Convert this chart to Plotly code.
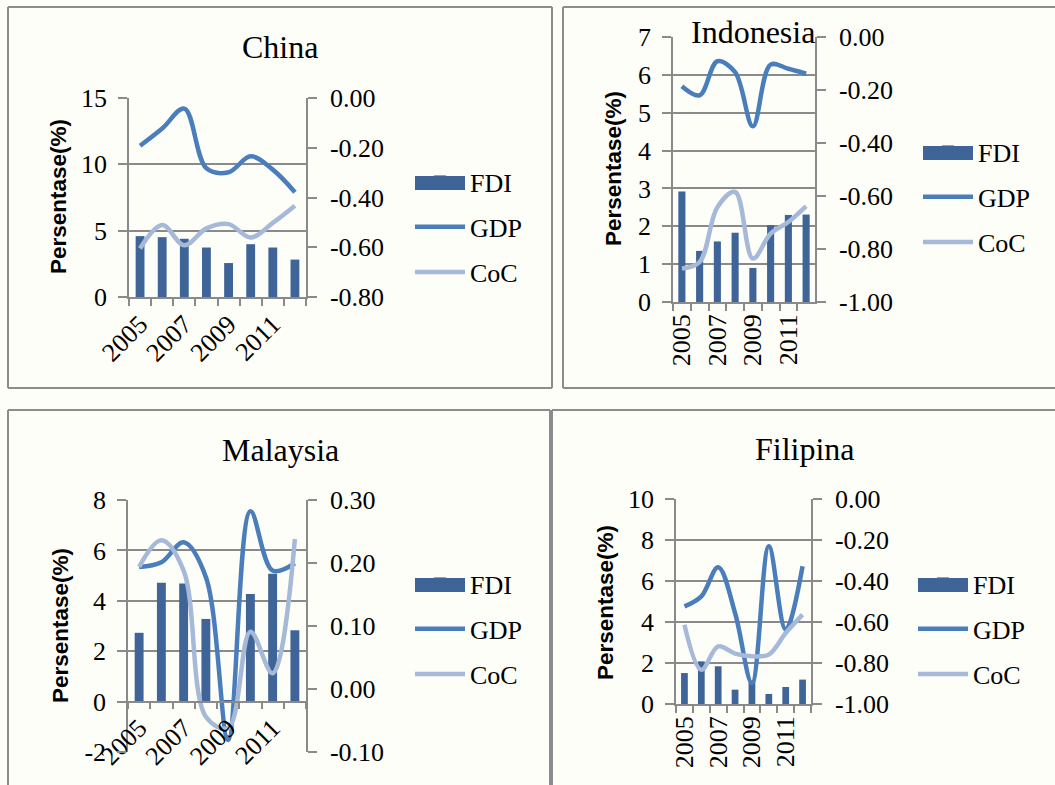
import plotly.graph_objects as go

W, H = 1055, 785

years = ['2005', '2006', '2007', '2008', '2009', '2010', '2011', '2012']
year_labels = ['2005', '', '2007', '', '2009', '', '2011', '']

china_fdi = [4.59, 4.51, 4.39, 3.73, 2.56, 3.98, 3.73, 2.82]
china_gdp = [11.4, 12.7, 14.2, 9.7, 9.4, 10.6, 9.6, 7.9]
china_coc = [-0.605, -0.511, -0.592, -0.524, -0.507, -0.561, -0.502, -0.433]

indo_fdi = [2.92, 1.35, 1.60, 1.83, 0.90, 2.03, 2.30, 2.31]
indo_gdp = [5.70, 5.46, 6.36, 6.07, 4.64, 6.27, 6.16, 6.03]
indo_coc = [-0.874, -0.849, -0.642, -0.585, -0.836, -0.742, -0.698, -0.638]

malay_fdi = [2.73, 4.72, 4.69, 3.28, 0.06, 4.27, 5.07, 2.83]
malay_gdp = [5.34, 5.53, 6.32, 4.94, -1.52, 7.55, 5.20, 5.49]
malay_coc = [0.194, 0.236, 0.188, -0.044, -0.062, 0.091, 0.025, 0.238]

phil_fdi = [1.51, 2.08, 1.84, 0.70, 1.15, 0.49, 0.83, 1.19]
phil_gdp = [4.76, 5.25, 6.67, 4.44, 1.02, 7.69, 3.63, 6.72]
phil_coc = [-0.613, -0.833, -0.719, -0.754, -0.767, -0.759, -0.654, -0.564]

china_left_ticks = [0, 5, 10, 15]
china_right_ticks = [-0.8, -0.6, -0.4, -0.2, 0.0]
indo_left_ticks = [0, 1, 2, 3, 4, 5, 6, 7]
indo_right_ticks = [-1.0, -0.8, -0.6, -0.4, -0.2, 0.0]
malay_left_ticks = [-2, 0, 2, 4, 6, 8]
malay_right_ticks = [-0.1, 0.0, 0.1, 0.2, 0.3]
phil_left_ticks = [0, 2, 4, 6, 8, 10]
phil_right_ticks = [-1.0, -0.8, -0.6, -0.4, -0.2, 0.0]

BAR = '#3F6598'
GDP = '#4A7EBB'
COC = '#A6B9D8'
GRID = '#8A8A8A'
SERIF = 'Liberation Serif, Times New Roman, serif'

panels = [
    dict(title='China', fdi=china_fdi, gdp=china_gdp, coc=china_coc,
         lt=china_left_ticks, rt=china_right_ticks,
         box=(129, 98, 306, 297), angle=-45, title_xy=(280, 47),
         ytitle_xy=(59, 197), legend_xy=(410, 158), xzero=False),
    dict(title='Indonesia', fdi=indo_fdi, gdp=indo_gdp, coc=indo_coc,
         lt=indo_left_ticks, rt=indo_right_ticks,
         box=(673, 37, 815, 302), angle=-90, title_xy=(753, 32),
         ytitle_xy=(614, 169), legend_xy=(918, 128), xzero=False),
    dict(title='Malaysia', fdi=malay_fdi, gdp=malay_gdp, coc=malay_coc,
         lt=malay_left_ticks, rt=malay_right_ticks,
         box=(128, 500, 306, 752), angle=-45, title_xy=(280, 450),
         ytitle_xy=(60, 626), legend_xy=(410, 560), xzero=True),
    dict(title='Filipina', fdi=phil_fdi, gdp=phil_gdp, coc=phil_coc,
         lt=phil_left_ticks, rt=phil_right_ticks,
         box=(676, 499, 811, 704), angle=-90, title_xy=(805, 449),
         ytitle_xy=(605, 603), legend_xy=(913, 560), xzero=False),
]


def px_x(x):
    return x / W


def px_y(y):
    return 1 - y / H


fig = go.Figure()
layout = dict(
    width=W, height=H,
    margin=dict(l=0, r=0, t=0, b=0, autoexpand=False),
    paper_bgcolor='#FEFEF9',
    plot_bgcolor='rgba(0,0,0,0)',
    bargap=0.6,
    shapes=[], annotations=[],
)

tick_font = dict(family=SERIF, size=26, color='black')

for i, p in enumerate(panels):
    n = i + 1
    xa = 'x' if n == 1 else f'x{n}'
    ya_l = 'y' if n == 1 else f'y{2 * n - 1}'
    ya_r = f'y{2 * n}'
    leg = 'legend' if n == 1 else f'legend{n}'

    fig.add_trace(go.Bar(x=years, y=p['fdi'], name='FDI', marker_color=BAR,
                         marker_line_width=0, xaxis=xa, yaxis=ya_l,
                         legend=leg, legendgroup=f'fdi{n}'))
    fig.add_trace(go.Scatter(x=years, y=p['gdp'], name='GDP', mode='lines',
                             line=dict(color=GDP, width=4.5, shape='spline', smoothing=1),
                             xaxis=xa, yaxis=ya_l, legend=leg, legendgroup=f'gdp{n}'))
    fig.add_trace(go.Scatter(x=years, y=p['coc'], name='CoC', mode='lines',
                             line=dict(color=COC, width=4.5, shape='spline', smoothing=1),
                             xaxis=xa, yaxis=ya_r, legend=leg, legendgroup=f'coc{n}'))

    x0, y0, x1, y1 = p['box']
    xdom = [px_x(x0), px_x(x1)]
    ydom = [px_y(y1), px_y(y0)]
    lt, rt = p['lt'], p['rt']

    xkey = 'xaxis' if n == 1 else f'xaxis{n}'
    ylkey = 'yaxis' if n == 1 else f'yaxis{2 * n - 1}'
    yrkey = f'yaxis{2 * n}'

    xaxis = dict(domain=xdom, type='category', range=[-0.5, len(years) - 0.5],
                 tickmode='array', tickvals=years, ticktext=year_labels,
                 tickson='boundaries', ticks='outside', ticklen=7, tickwidth=1.5,
                 tickcolor=GRID, showline=True, linecolor=GRID, linewidth=1.5,
                 showgrid=False, tickangle=p['angle'], tickfont=tick_font,
                 anchor=ya_l, fixedrange=True, automargin=False)
    if p['xzero']:
        frac = (0 - lt[0]) / (lt[-1] - lt[0])
        xaxis['anchor'] = 'free'
        xaxis['position'] = ydom[0] + frac * (ydom[1] - ydom[0])
    layout[xkey] = xaxis

    layout[ylkey] = dict(domain=ydom, anchor=xa, range=[lt[0], lt[-1]],
                         tickmode='array', tickvals=lt, ticktext=[str(v) for v in lt],
                         ticks='outside', ticklen=9, tickwidth=1.5, tickcolor=GRID,
                         showline=True, linecolor=GRID, linewidth=1.5,
                         showgrid=True, gridcolor=GRID, gridwidth=1.5,
                         zeroline=False, tickfont=tick_font, ticklabelstandoff=6,
                         fixedrange=True, automargin=False)
    layout[yrkey] = dict(overlaying=ya_l, side='right', anchor=xa,
                         range=[rt[0], rt[-1]], tickmode='array', tickvals=rt,
                         ticktext=[f'{v:.2f}' for v in rt],
                         ticks='outside', ticklen=9, tickwidth=1.5, tickcolor=GRID,
                         showline=True, linecolor=GRID, linewidth=1.5,
                         showgrid=False, zeroline=False, tickfont=tick_font,
                         ticklabelstandoff=8, fixedrange=True, automargin=False)

    lx, ly = p['legend_xy']
    layout[leg] = dict(x=px_x(lx), y=px_y(ly), xanchor='left', yanchor='top',
                       bgcolor='rgba(0,0,0,0)', font=dict(family=SERIF, size=26, color='black'),
                       itemwidth=50, traceorder='grouped', tracegroupgap=8.5)
    # widen the FDI legend swatch into Excel's wide block
    layout['shapes'].append(dict(type='rect', xref='paper', yref='paper',
                                 x0=px_x(lx + 5), x1=px_x(lx + 55),
                                 y0=px_y(ly + 25 + 7), y1=px_y(ly + 25 - 7),
                                 fillcolor=BAR, line=dict(width=0), layer='below'))

    tx, ty = p['title_xy']
    layout['annotations'].append(dict(text=p['title'], x=px_x(tx), y=px_y(ty),
                                      xref='paper', yref='paper', showarrow=False,
                                      xanchor='center', yanchor='middle',
                                      font=dict(family=SERIF, size=32, color='black')))
    yx, yy = p['ytitle_xy']
    layout['annotations'].append(dict(text='<b>Persentase(%)</b>', x=px_x(yx), y=px_y(yy),
                                      xref='paper', yref='paper', showarrow=False,
                                      textangle=-90, xanchor='center', yanchor='middle',
                                      font=dict(family='Liberation Sans, Arial, sans-serif',
                                                size=22.5, color='black')))

# panel borders (visible edges only)
border_lines = [
    (8, 7, 552, 7), (8, 7, 8, 388), (552, 7, 552, 388), (8, 388, 552, 388),
    (563, 7, 1055, 7), (563, 7, 563, 388), (563, 388, 1055, 388),
    (8, 410, 550, 410), (8, 410, 8, 785), (550, 410, 550, 785),
    (552, 410, 1055, 410), (552, 410, 552, 785),
]
for bx0, by0, bx1, by1 in border_lines:
    layout['shapes'].append(dict(type='line', xref='paper', yref='paper',
                                 x0=px_x(bx0), x1=px_x(bx1), y0=px_y(by0), y1=px_y(by1),
                                 line=dict(color='#8C8C8C', width=2), layer='below'))

fig.update_layout(**layout)
fig.write_html('out.html')
